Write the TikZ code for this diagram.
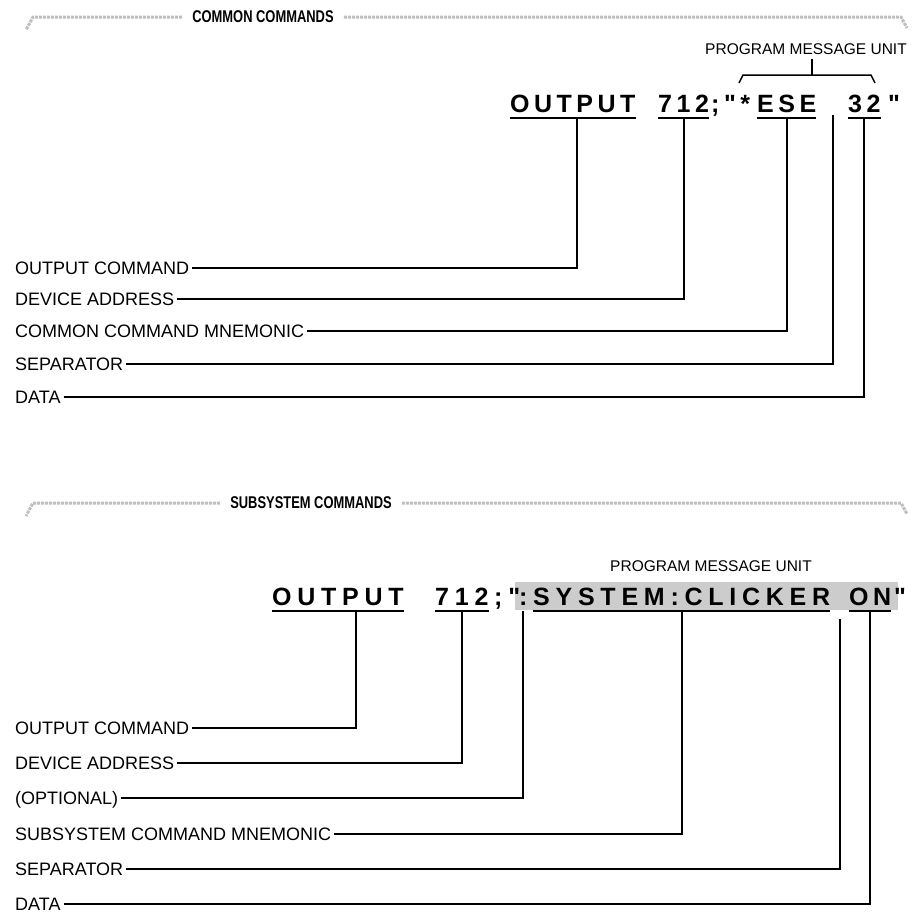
\documentclass[tikz,border=0pt]{standalone}
\usepackage{fontspec}
\setmainfont{Liberation Sans}
\newfontfamily\headfont[FakeStretch=0.76]{Liberation Sans}
\newfontfamily\cmdfont[LetterSpace=18]{Liberation Sans}
\newfontfamily\cmdfontb[LetterSpace=23]{Liberation Sans}
\usetikzlibrary{calc}
\tikzset{
    % Section heading between the grey rules
    head/.style={
        font=\headfont\bfseries\fontsize{17}{20}\selectfont,
        inner xsep=10pt,
        inner ysep=0pt
    },
    % Grey hatched rule
    rule/.style={
        draw=gray!50,
        line width=3pt,
        densely dotted
    },
    % Small caption above the command
    pmu/.style={
        font=\fontsize{15.5}{17}\selectfont,
        inner sep=2pt
    },
    % One piece of the command line
    cmdtok/.style={
        anchor=base west,
        inner xsep=0pt,
        inner ysep=6pt,
        text height=18pt,
        text depth=0pt,
        font=\cmdfont\bfseries\fontsize{25}{28}\selectfont
    },
    cmdtok wide/.style={
        cmdtok,
        font=\cmdfontb\bfseries\fontsize{25}{28}\selectfont
    },
    % Name of a piece, on the left
    callout/.style={
        anchor=west,
        inner xsep=3pt,
        inner ysep=0pt,
        text height=13pt,
        text depth=0pt,
        font=\fontsize{18}{20}\selectfont
    },
    link/.style={
        draw=black,
        line width=2pt
    },
    uline/.style={
        line width=1.8pt
    },
    brace/.style={
        line width=1.5pt,
        shorten <=2pt
    },
    hilite/.style={
        fill=gray!40
    }
}

\begin{document}
\begin{tikzpicture}[x=1pt, y=-1pt]
        \useasboundingbox (0,0) rectangle (913,918);

        % Common commands
        \node[head] (hd1) at (263,17) {COMMON COMMANDS};
        \draw[rule] (hd1.west) -- (33,17) -- (26,30);
        \draw[rule] (hd1.east) -- (901,17) -- (907,28);

        \node[pmu] (pmu1) at (806,49) {PROGRAM MESSAGE UNIT};
        \coordinate (brace1) at (812,75);
        \draw[brace] (pmu1.south -| brace1) -- (brace1);
        \draw[line width=1.5pt] (739,83) -- (743,75) -- (871,75) -- (875,83);

        \node[cmdtok] (out1) at (510,112) {OUTPUT};
        \node[cmdtok] (adr1) at (658,112) {712};
        \node[cmdtok] (q1) at (711,112) {;"*};
        \node[cmdtok] (mn1) at (757,112) {ESE};
        \node[cmdtok] (dat1) at (848,112) {32};
        \node[cmdtok] (qe1) at (888,112) {"};
        \coordinate (sep1) at (833,115);
        \foreach \t in {out1,adr1,mn1,dat1}
            \draw[uline] (\t.south west) -- (\t.south east);

        \node[callout] (l1a) at (12,268) {OUTPUT COMMAND};
        \node[callout] (l1b) at (12,299) {DEVICE ADDRESS};
        \node[callout] (l1c) at (12,331) {COMMON COMMAND MNEMONIC};
        \node[callout] (l1d) at (12,364) {SEPARATOR};
        \node[callout] (l1e) at (12,397) {DATA};

        \draw[link] (l1a.east) -| ([xshift=4pt]out1.south);
        \draw[link] (l1b.east) -| (adr1.south);
        \draw[link] (l1c.east) -| (mn1.south);
        \draw[link] (l1d.east) -| (sep1);
        \draw[link] (l1e.east) -| (dat1.south);

        % Subsystem commands
        \node[head] (hd2) at (311,503) {SUBSYSTEM COMMANDS};
        \draw[rule] (hd2.west) -- (33,503) -- (26,516);
        \draw[rule] (hd2.east) -- (901,503) -- (907,514);

        \node[pmu] (pmu2) at (711,566) {PROGRAM MESSAGE UNIT};

        \fill[hilite] (515,582) rectangle (898,610);
        \node[cmdtok wide] (out2) at (272,605) {OUTPUT};
        \node[cmdtok wide] (adr2) at (435,605) {712};
        \node[cmdtok wide] (q2) at (494,605) {;"};
        \node[cmdtok wide] (opt2) at (519,605) {:};
        \node[cmdtok wide] (mn2) at (533,605) {SYSTEM:CLICKER};
        \node[cmdtok] (dat2) at (849,605) {ON};
        \node[cmdtok] (qe2) at (894,605) {"};
        \coordinate (sep2) at (840,619);
        \foreach \t in {out2,adr2,mn2,dat2}
            \draw[uline] (\t.south west) -- (\t.south east);

        \node[callout] (l2a) at (12,728) {OUTPUT COMMAND};
        \node[callout] (l2b) at (12,763) {DEVICE ADDRESS};
        \node[callout] (l2c) at (12,798) {(OPTIONAL)};
        \node[callout] (l2d) at (12,834) {SUBSYSTEM COMMAND MNEMONIC};
        \node[callout] (l2e) at (12,869) {SEPARATOR};
        \node[callout] (l2f) at (12,904) {DATA};

        \draw[link] (l2a.east) -| ([xshift=18pt]out2.south);
        \draw[link] (l2b.east) -| (adr2.south);
        \draw[link] (l2c.east) -| (opt2.south);
        \draw[link] (l2d.east) -| (mn2.south);
        \draw[link] (l2e.east) -| (sep2);
        \draw[link] (l2f.east) -| (dat2.south);
\end{tikzpicture}
\end{document}
